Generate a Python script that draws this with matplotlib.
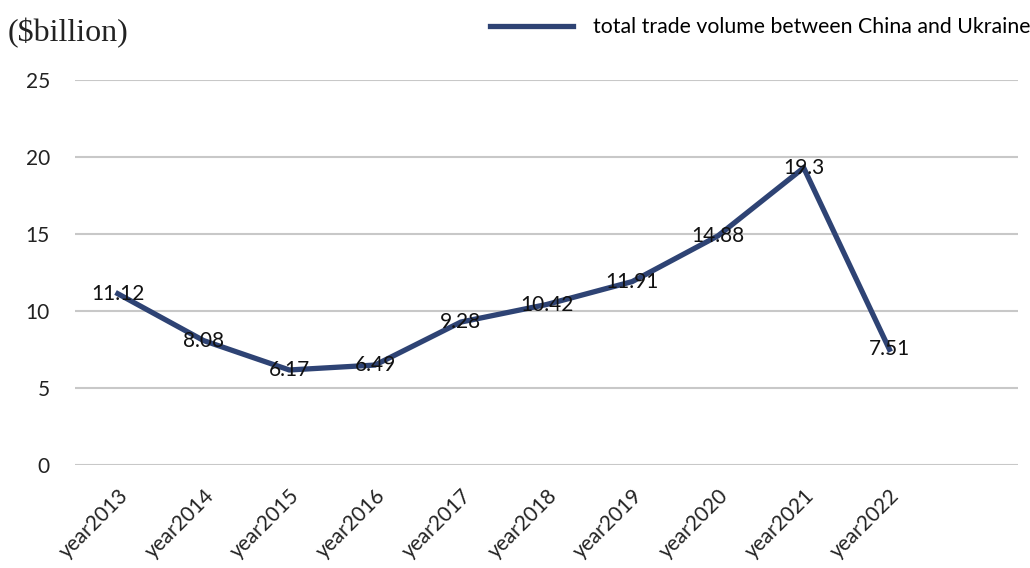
import matplotlib.pyplot as plt

years = ["year2013", "year2014", "year2015", "year2016", "year2017",
         "year2018", "year2019", "year2020", "year2021", "year2022"]
trade = [11.12, 8.08, 6.17, 6.49, 9.28, 10.42, 11.91, 14.88, 19.3, 7.51]
yticks = [0, 5, 10, 15, 20, 25]

fig = plt.figure(figsize=(10.3, 5.68), dpi=100)
ax = fig.add_axes([75/1030, 1-465/568, 943/1030, 385/568])

x = list(range(len(years)))
ax.plot(x, trade, color="#2e4374", lw=3.8, solid_joinstyle="miter",
        label="total trade volume between China and Ukraine", zorder=3)

for xi, v in zip(x, trade):
    ax.text(xi, v, f"{v:g}", ha="center", va="center", fontsize=15,
            family="Lato", color="#111111", zorder=4)

ax.set_xlim(-0.5, 10.5)
ax.set_ylim(0, 25)
ax.set_yticks(yticks)
ax.set_xticks(x)
ax.set_xticklabels(years, rotation=45, ha="right", rotation_mode="anchor",
                   family="Lato", fontsize=15, color="#222222")
for lab in ax.get_yticklabels():
    lab.set_family("Lato")
    lab.set_fontsize(15)
    lab.set_color("#222222")
ax.tick_params(length=0)
ax.tick_params(axis="y", pad=18)
ax.tick_params(axis="x", pad=15)
for s in ax.spines.values():
    s.set_visible(False)
ax.grid(axis="y", color="#c8c8c8", lw=1.5)
ax.set_axisbelow(True)

fig.text(8/1030, 1-33/568, "($billion)", family="Liberation Serif",
         fontsize=23, va="center", ha="left", color="#222222")

ax.legend(loc="center left", bbox_to_anchor=(490/1030, 1-27/568),
          bbox_transform=fig.transFigure, frameon=False, borderpad=0,
          borderaxespad=0, handlelength=3.9, handletextpad=0.95,
          prop={"family": "Lato", "size": 15.3})

plt.savefig("out.png", dpi=100)
